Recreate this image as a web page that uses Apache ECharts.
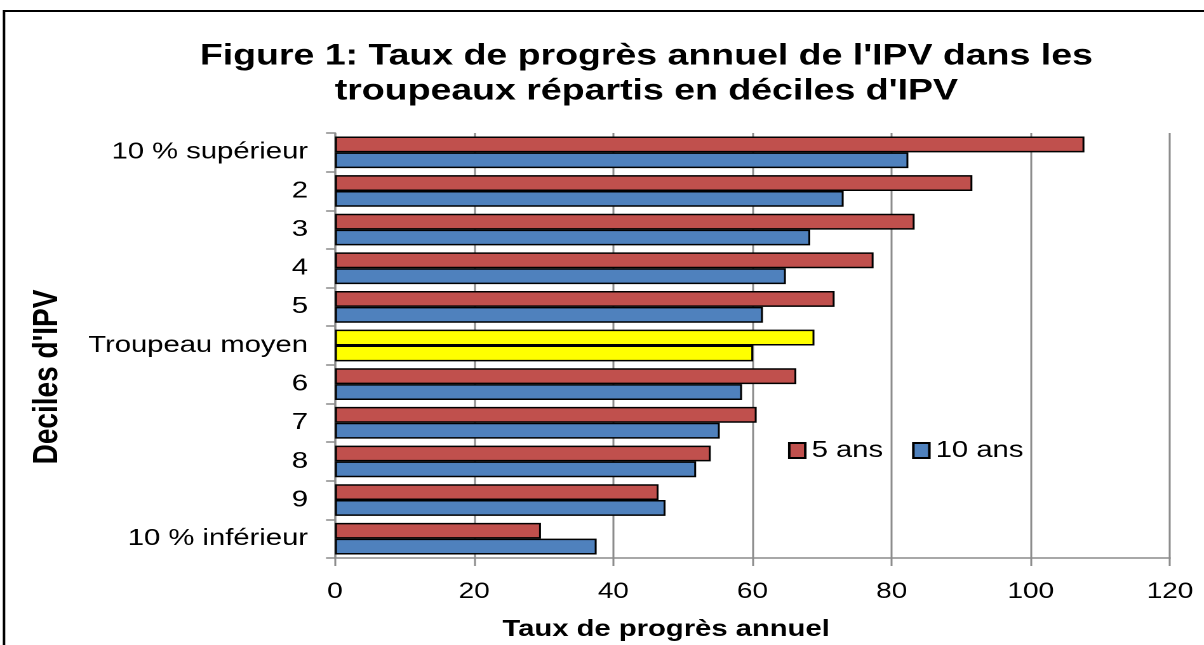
<!DOCTYPE html>
<html>
<head>
<meta charset="utf-8">
<script src="https://cdn.jsdelivr.net/npm/echarts@6/dist/echarts.min.js"></script>
<style>
  html, body { margin: 0; padding: 0; background: #fff; overflow: hidden; }
  #wrap { width: 1204px; height: 645px; position: relative; overflow: hidden; }
  #chart { height: 645px; position: absolute; left: 0; top: 0; transform-origin: 0 0; }
</style>
</head>
<body>
<div id="wrap"><div id="chart"></div></div>
<script>
const categories = ["10 % supérieur", "2", "3", "4", "5", "Troupeau moyen", "6", "7", "8", "9", "10 % inférieur"];
const values5ans = [107.7, 91.6, 83.3, 77.4, 71.8, 68.9, 66.3, 60.6, 54.0, 46.5, 29.6];
const values10ans = [82.4, 73.1, 68.3, 64.8, 61.5, 60.1, 58.5, 55.3, 51.9, 47.5, 37.6];
const seriesNames = ["5 ans", "10 ans"];
const xTicks = { min: 0, max: 120, interval: 20 };
const highlightCategory = "Troupeau moyen";

// The reference picture is stretched horizontally; reproduce by drawing
// in a narrower canvas and scaling it along x.
const S = 1.27;
const W = 1204 / S;
const px = v => v / S;

const FONT = "Liberation Sans, Arial, sans-serif";
const RED = "#C0504D", BLUE = "#4F81BD", YELLOW = "#FFFF00", GRID = "#8C8C8C";

function buildData(vals) {
  return vals.map((v, i) => categories[i] === highlightCategory
    ? { value: v, itemStyle: { color: YELLOW } }
    : v);
}

const el = document.getElementById('chart');
el.style.width = W + 'px';
el.style.transform = 'scaleX(' + S + ')';

const chart = echarts.init(el, null, { renderer: 'canvas', devicePixelRatio: 2 });
chart.setOption({
  animation: false,
  backgroundColor: '#fff',
  title: {
    text: "Figure 1: Taux de progrès annuel de l'IPV dans les\ntroupeaux répartis en déciles d'IPV",
    left: px(640), top: 34, textAlign: 'center',
    textStyle: { fontFamily: FONT, fontSize: 29.5, fontWeight: 'bold', color: '#000', lineHeight: 35 }
  },
  legend: {
    left: px(788) - 5, top: 434,
    itemWidth: px(16), itemHeight: 15, itemGap: px(29),
    icon: 'rect',
    textStyle: { fontFamily: FONT, fontSize: 23, color: '#000' },
    data: seriesNames
  },
  grid: { left: px(335), right: px(34), top: 133, bottom: 87, containLabel: false, outerBoundsMode: 'none' },
  xAxis: {
    type: 'value', min: xTicks.min, max: xTicks.max, interval: xTicks.interval,
    name: 'Taux de progrès annuel', nameLocation: 'middle', nameGap: 60,
    nameTextStyle: { fontFamily: FONT, fontSize: 23, fontWeight: 'bold', color: '#000', padding: [0, 136, 0, 0] },
    axisLine: { show: true, lineStyle: { color: GRID, width: 1.5 } },
    axisTick: { show: true, length: 8, lineStyle: { color: GRID, width: 1.5 } },
    axisLabel: { fontFamily: FONT, fontSize: 22, color: '#000', margin: 23 },
    splitLine: { show: true, lineStyle: { color: GRID, width: 1.5 } }
  },
  yAxis: {
    type: 'category', data: categories, inverse: true,
    axisLine: { show: true, lineStyle: { color: GRID, width: 1.5 } },
    axisTick: { show: true, length: px(9), lineStyle: { color: GRID, width: 1.5 } },
    axisLabel: { fontFamily: FONT, fontSize: 23, color: '#000', margin: px(27) },
    splitLine: { show: false }
  },
  series: [
    {
      name: seriesNames[0], type: 'bar', data: buildData(values5ans),
      barGap: '0%', barCategoryGap: '18%',
      itemStyle: { color: RED, borderColor: '#000', borderWidth: 1.5 }
    },
    {
      name: seriesNames[1], type: 'bar', data: buildData(values10ans),
      barGap: '0%', barCategoryGap: '18%',
      itemStyle: { color: BLUE, borderColor: '#000', borderWidth: 1.5 }
    }
  ],
  graphic: [
    { type: 'text', x: px(47.5), y: 377, rotation: Math.PI / 2,
      style: { text: "Deciles d'IPV", font: "bold 28px " + FONT, fill: '#000', align: 'center', verticalAlign: 'middle' } },
    { type: 'polyline', shape: { points: [[px(4), 645], [px(4), 11], [W, 11]] },
      style: { stroke: '#000', lineWidth: 2, fill: null } }
  ]
});
</script>
</body>
</html>
